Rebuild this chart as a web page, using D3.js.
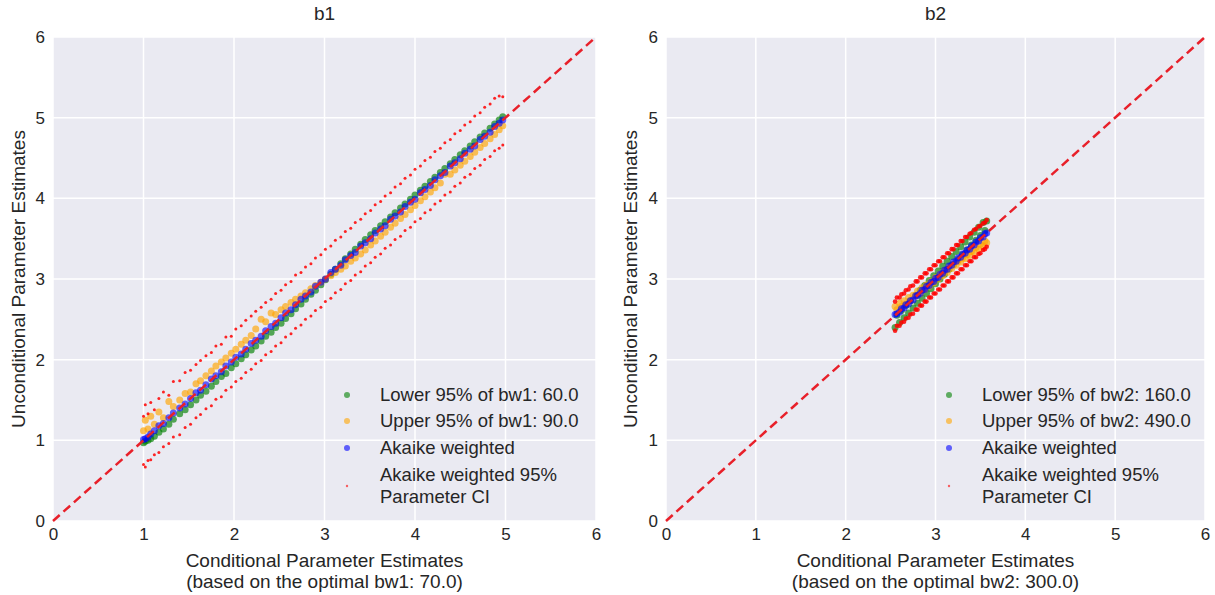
<!DOCTYPE html>
<html>
<head>
<meta charset="utf-8">
<script src="https://cdn.jsdelivr.net/npm/d3@7"></script>
<style>
  body { margin: 0; background: #fff; }
  text { font-family: "Liberation Sans", Arial, sans-serif; fill: #262626; }
</style>
</head>
<body>
<div id="chart"></div>
<script>
// ---- data ----
var ticks = [0, 1, 2, 3, 4, 5, 6];

// b1 : conditional estimates (x) and the unconditional ones (y)
var b1Cond = [1.00, 1.02, 1.05, 1.08, 1.12, 1.17, 1.22, 1.28, 1.33, 1.40,
  1.46, 1.52, 1.58, 1.63, 1.69, 1.75, 1.80, 1.86, 1.91, 1.97,
  2.02, 2.08, 2.13, 2.19, 2.24, 2.30, 2.35, 2.41, 2.46, 2.52,
  2.57, 2.63, 2.68, 2.74, 2.79, 2.85, 2.90, 2.96, 3.01, 3.07,
  3.12, 3.18, 3.23, 3.29, 3.34, 3.40, 3.45, 3.51, 3.56, 3.62,
  3.67, 3.73, 3.78, 3.84, 3.89, 3.95, 4.00, 4.06, 4.11, 4.17,
  4.22, 4.28, 4.33, 4.39, 4.44, 4.50, 4.55, 4.61, 4.66, 4.72,
  4.77, 4.83, 4.88, 4.93, 4.97];
var b1Lower = [0.97, 0.99, 1.00, 1.02, 1.05, 1.10, 1.14, 1.20, 1.26, 1.33,
  1.38, 1.44, 1.50, 1.56, 1.61, 1.67, 1.73, 1.79, 1.83, 1.90,
  1.95, 2.01, 2.06, 2.12, 2.17, 2.23, 2.29, 2.34, 2.40, 2.45,
  2.51, 2.57, 2.63, 2.69, 2.75, 2.81, 2.86, 2.93, 2.99, 3.06,
  3.12, 3.19, 3.25, 3.31, 3.37, 3.43, 3.49, 3.55, 3.60, 3.66,
  3.71, 3.77, 3.82, 3.88, 3.93, 3.99, 4.04, 4.10, 4.15, 4.21,
  4.26, 4.32, 4.37, 4.43, 4.48, 4.54, 4.59, 4.65, 4.70, 4.76,
  4.81, 4.87, 4.92, 4.97, 5.01];
var b1Upper = [1.12, 1.25, 1.14, 1.30, 1.20, 1.35, 1.28, 1.48, 1.42, 1.50,
  1.58, 1.60, 1.70, 1.74, 1.80, 1.86, 1.92, 1.97, 2.02, 2.08,
  2.13, 2.19, 2.24, 2.30, 2.38, 2.50, 2.47, 2.58, 2.56, 2.62,
  2.66, 2.71, 2.75, 2.79, 2.83, 2.88, 2.92, 2.96, 3.00, 3.04,
  3.08, 3.12, 3.16, 3.22, 3.26, 3.31, 3.36, 3.42, 3.47, 3.53,
  3.58, 3.64, 3.69, 3.75, 3.80, 3.86, 3.91, 3.97, 4.02, 4.08,
  4.13, 4.19, 4.30, 4.30, 4.35, 4.41, 4.46, 4.52, 4.57, 4.63,
  4.68, 4.74, 4.79, 4.85, 4.90];
var b1Akaike = [1.01, 1.02, 1.04, 1.08, 1.12, 1.18, 1.21, 1.28, 1.34, 1.40,
  1.45, 1.52, 1.59, 1.62, 1.69, 1.76, 1.80, 1.85, 1.92, 1.97,
  2.03, 2.07, 2.13, 2.20, 2.24, 2.29, 2.36, 2.41, 2.45, 2.52,
  2.58, 2.62, 2.68, 2.75, 2.79, 2.84, 2.91, 2.96, 3.00, 3.08,
  3.12, 3.17, 3.24, 3.29, 3.33, 3.41, 3.45, 3.50, 3.57, 3.62,
  3.66, 3.74, 3.78, 3.83, 3.90, 3.95, 3.99, 4.07, 4.11, 4.16,
  4.23, 4.28, 4.32, 4.40, 4.44, 4.49, 4.56, 4.61, 4.65, 4.73,
  4.77, 4.82, 4.89, 4.93, 4.97];
var b1CiHigh = [1.30, 1.44, 1.33, 1.47, 1.38, 1.52, 1.60, 1.56, 1.73, 1.74,
  1.84, 1.87, 1.94, 1.99, 2.05, 2.09, 2.17, 2.19, 2.28, 2.29,
  2.38, 2.42, 2.49, 2.54, 2.60, 2.65, 2.71, 2.75, 2.82, 2.86,
  2.93, 2.97, 3.05, 3.08, 3.15, 3.19, 3.26, 3.30, 3.37, 3.41,
  3.48, 3.52, 3.59, 3.63, 3.70, 3.74, 3.81, 3.85, 3.92, 3.96,
  4.03, 4.07, 4.14, 4.18, 4.25, 4.29, 4.36, 4.40, 4.47, 4.51,
  4.58, 4.62, 4.69, 4.73, 4.80, 4.84, 4.91, 4.95, 5.02, 5.06,
  5.13, 5.17, 5.24, 5.27, 5.26];
var b1CiLow = [0.70, 0.67, 0.75, 0.76, 0.82, 0.85, 0.92, 0.96, 1.04, 1.07,
  1.16, 1.20, 1.28, 1.32, 1.39, 1.43, 1.51, 1.54, 1.62, 1.66,
  1.73, 1.77, 1.84, 1.88, 1.95, 1.99, 2.06, 2.10, 2.17, 2.21,
  2.28, 2.32, 2.39, 2.43, 2.50, 2.54, 2.61, 2.65, 2.72, 2.76,
  2.83, 2.87, 2.94, 2.98, 3.05, 3.09, 3.16, 3.20, 3.27, 3.31,
  3.38, 3.42, 3.49, 3.53, 3.60, 3.64, 3.71, 3.75, 3.82, 3.86,
  3.93, 3.97, 4.04, 4.08, 4.15, 4.19, 4.26, 4.30, 4.37, 4.41,
  4.48, 4.52, 4.59, 4.62, 4.66];

// b2
var b2Cond = [2.55, 2.57, 2.60, 2.62, 2.65, 2.67, 2.70, 2.72, 2.75, 2.78,
  2.80, 2.83, 2.85, 2.88, 2.90, 2.93, 2.95, 2.98, 3.00, 3.03,
  3.05, 3.08, 3.10, 3.13, 3.15, 3.18, 3.20, 3.23, 3.25, 3.28,
  3.30, 3.33, 3.35, 3.38, 3.40, 3.43, 3.45, 3.48, 3.50, 3.53,
  3.55, 3.57];
var b2Lower = [2.40, 2.55, 2.46, 2.61, 2.52, 2.67, 2.58, 2.73, 2.64, 2.80,
  2.70, 2.86, 2.76, 2.92, 2.82, 2.98, 2.88, 3.04, 2.94, 3.10,
  3.00, 3.16, 3.06, 3.22, 3.12, 3.28, 3.18, 3.34, 3.24, 3.40,
  3.30, 3.46, 3.36, 3.52, 3.42, 3.58, 3.48, 3.64, 3.54, 3.70,
  3.60, 3.72];
var b2Upper = [2.66, 2.62, 2.70, 2.66, 2.73, 2.69, 2.77, 2.73, 2.80, 2.79,
  2.85, 2.82, 2.89, 2.87, 2.93, 2.91, 2.97, 2.95, 3.02, 3.00,
  3.06, 3.04, 3.10, 3.08, 3.14, 3.13, 3.18, 3.17, 3.22, 3.21,
  3.26, 3.25, 3.30, 3.29, 3.34, 3.33, 3.39, 3.37, 3.43, 3.41,
  3.47, 3.45];
var b2Akaike = [2.56, 2.57, 2.59, 2.63, 2.64, 2.68, 2.69, 2.73, 2.74, 2.79,
  2.80, 2.82, 2.86, 2.87, 2.91, 2.92, 2.96, 2.97, 3.01, 3.02,
  3.06, 3.07, 3.11, 3.12, 3.16, 3.17, 3.21, 3.22, 3.26, 3.27,
  3.31, 3.32, 3.36, 3.37, 3.41, 3.42, 3.46, 3.47, 3.51, 3.52,
  3.56, 3.57];
var b2CiHigh = [2.72, 2.77, 2.77, 2.81, 2.82, 2.86, 2.87, 2.91, 2.92, 2.97,
  2.97, 3.02, 3.02, 3.07, 3.07, 3.12, 3.12, 3.17, 3.17, 3.22,
  3.22, 3.27, 3.27, 3.32, 3.32, 3.37, 3.37, 3.42, 3.42, 3.47,
  3.47, 3.52, 3.52, 3.56, 3.57, 3.61, 3.62, 3.65, 3.66, 3.69,
  3.70, 3.73];
var b2CiLow = [2.36, 2.42, 2.42, 2.46, 2.47, 2.51, 2.52, 2.56, 2.57, 2.62,
  2.62, 2.67, 2.67, 2.72, 2.72, 2.77, 2.77, 2.82, 2.82, 2.87,
  2.87, 2.92, 2.92, 2.97, 2.97, 3.02, 3.02, 3.07, 3.07, 3.12,
  3.12, 3.17, 3.17, 3.22, 3.22, 3.27, 3.27, 3.31, 3.32, 3.36,
  3.37, 3.40];

var panels = [
  { title: "b1", left: 53, right: 596, ylabX: 18, legX: 347, ciR: 1.5, r: 3.5,
    cond: b1Cond, lower: b1Lower, upper: b1Upper, akaike: b1Akaike, ciHigh: b1CiHigh, ciLow: b1CiLow,
    legend: ["Lower 95% of bw1: 60.0", "Upper 95% of bw1: 90.0", "Akaike weighted", "Akaike weighted 95%", "Parameter CI"],
    xlab2: "(based on the optimal bw1: 70.0)" },
  { title: "b2", left: 666, right: 1205, ylabX: 630, legX: 949, ciR: 2.3, r: 3.5,
    cond: b2Cond, lower: b2Lower, upper: b2Upper, akaike: b2Akaike, ciHigh: b2CiHigh, ciLow: b2CiLow,
    legend: ["Lower 95% of bw2: 160.0", "Upper 95% of bw2: 490.0", "Akaike weighted", "Akaike weighted 95%", "Parameter CI"],
    xlab2: "(based on the optimal bw2: 300.0)" }
];

var W = 1215, H = 595, plotTop = 37, plotBottom = 521;

var svg = d3.select("#chart").append("svg")
  .attr("width", W)
  .attr("height", H);

panels.forEach(function(p) {
  var x = d3.scaleLinear().domain([0, 6]).range([p.left, p.right]);
  var y = d3.scaleLinear().domain([0, 6]).range([plotBottom, plotTop]);
  var g = svg.append("g");

  // background + grid
  g.append("rect")
    .attr("x", p.left).attr("y", plotTop)
    .attr("width", p.right - p.left).attr("height", plotBottom - plotTop)
    .attr("fill", "#eaeaf2");

  g.selectAll(".vgrid").data(ticks).enter().append("line")
    .attr("x1", function(d) { return x(d); }).attr("x2", function(d) { return x(d); })
    .attr("y1", plotTop).attr("y2", plotBottom)
    .attr("stroke", "#fff").attr("stroke-width", 1.5);
  g.selectAll(".hgrid").data(ticks).enter().append("line")
    .attr("y1", function(d) { return y(d); }).attr("y2", function(d) { return y(d); })
    .attr("x1", p.left).attr("x2", p.right)
    .attr("stroke", "#fff").attr("stroke-width", 1.5);

  // axes (labels only, seaborn style)
  var xAxis = g.append("g")
    .attr("transform", "translate(0," + plotBottom + ")")
    .call(d3.axisBottom(x).tickValues(ticks).tickSize(0).tickPadding(7).tickFormat(d3.format("d")));
  var yAxis = g.append("g")
    .attr("transform", "translate(" + p.left + ",0)")
    .call(d3.axisLeft(y).tickValues(ticks).tickSize(0).tickPadding(8).tickFormat(d3.format("d")));
  [xAxis, yAxis].forEach(function(a) {
    a.select(".domain").remove();
    a.selectAll("text").style("font-size", "17px").style("font-family", "Liberation Sans, Arial, sans-serif").attr("fill", "#262626");
  });

  // scatter layers
  var layers = [
    { ys: p.lower, color: "green", r: p.r, op: 0.65 },
    { ys: p.upper, color: "orange", r: p.r, op: 0.65 },
    { ys: p.akaike, color: "blue", r: p.r, op: 0.6 },
    { ys: p.ciHigh, color: "red", r: p.ciR, op: 0.85 },
    { ys: p.ciLow, color: "red", r: p.ciR, op: 0.85 }
  ];
  layers.forEach(function(l) {
    g.append("g").selectAll("circle")
      .data(p.cond)
      .enter().append("circle")
      .attr("cx", function(d) { return x(d); })
      .attr("cy", function(d, i) { return y(l.ys[i]); })
      .attr("r", l.r)
      .attr("fill", l.color)
      .attr("fill-opacity", l.op);
  });

  // 1:1 dashed line
  g.append("line")
    .attr("x1", x(0)).attr("y1", y(0))
    .attr("x2", x(6)).attr("y2", y(6))
    .attr("stroke", "#e8202a").attr("stroke-width", 2.5)
    .attr("stroke-dasharray", "9,5");

  // titles and labels
  g.append("text")
    .attr("x", (p.left + p.right) / 2).attr("y", 20)
    .attr("text-anchor", "middle").style("font-size", "19px")
    .text(p.title);
  g.append("text")
    .attr("x", (p.left + p.right) / 2).attr("y", 567)
    .attr("text-anchor", "middle").style("font-size", "19px")
    .text("Conditional Parameter Estimates");
  g.append("text")
    .attr("x", (p.left + p.right) / 2).attr("y", 588)
    .attr("text-anchor", "middle").style("font-size", "19px")
    .text(p.xlab2);
  g.append("text")
    .attr("transform", "translate(" + p.ylabX + "," + ((plotTop + plotBottom) / 2) + ") rotate(-90)")
    .attr("text-anchor", "middle").attr("dy", "0.35em").style("font-size", "19px")
    .text("Unconditional Parameter Estimates");

  // legend
  var legRows = [
    { color: "green", r: 3, op: 0.6, label: p.legend[0], y: 395 },
    { color: "orange", r: 3, op: 0.6, label: p.legend[1], y: 421 },
    { color: "blue", r: 3, op: 0.6, label: p.legend[2], y: 448 },
    { color: "red", r: 1.2, op: 0.6, label: p.legend[3], y: 475, extra: p.legend[4] }
  ];
  var leg = g.append("g");
  legRows.forEach(function(r) {
    var my = r.extra ? r.y + 11 : r.y;
    leg.append("circle")
      .attr("cx", p.legX).attr("cy", my)
      .attr("r", r.r).attr("fill", r.color).attr("fill-opacity", r.op);
    leg.append("text")
      .attr("x", p.legX + 33).attr("y", r.y).attr("dy", "0.35em")
      .style("font-size", "18.5px")
      .text(r.label);
    if (r.extra) {
      leg.append("text")
        .attr("x", p.legX + 33).attr("y", r.y + 22).attr("dy", "0.35em")
        .style("font-size", "18.5px")
        .text(r.extra);
    }
  });
});
</script>
</body>
</html>
